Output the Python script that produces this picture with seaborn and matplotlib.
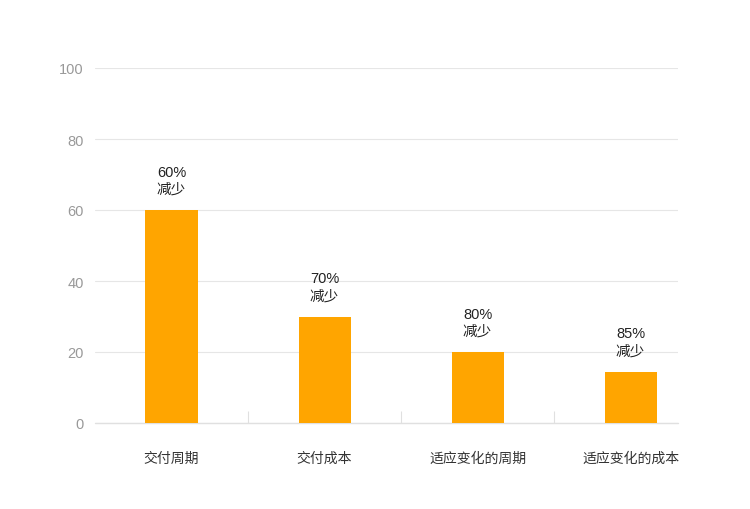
import matplotlib
matplotlib.use('Agg')
import matplotlib.pyplot as plt
import seaborn as sns

# Data
categories = ['交付周期', '交付成本', '适应变化的周期', '适应变化的成本']
values = [60, 30, 20, 14.5]
bar_labels = ['60%\n减少', '70%\n减少', '80%\n减少', '85%\n减少']
y_ticks = [0, 20, 40, 60, 80, 100]

sns.set_style("white")
plt.rcParams['font.family'] = ['Liberation Sans', 'Noto Sans CJK SC', 'DejaVu Sans']

fig = plt.figure(figsize=(7.5, 5.1), dpi=100)
ax = fig.add_axes([95 / 750, 86 / 510, 583 / 750, 355 / 510])

sns.barplot(x=categories, y=values, color='#FFA500', width=0.34, saturation=1,
            linewidth=0, edgecolor='none', ax=ax)

for i, (v, lab) in enumerate(zip(values, bar_labels)):
    ax.annotate(lab, (i, v), xytext=(0, 14), textcoords='offset pixels',
                ha='center', va='bottom', multialignment='left',
                fontsize=10.5, color='#222222', linespacing=1.3)

ax.set_ylim(0, 100)
ax.set_xlim(-0.5, 3.31)
ax.set_yticks(y_ticks)
ax.yaxis.grid(True, color='#e6e6e6', linewidth=0.8)
ax.axhline(0, color='#e0e0e0', linewidth=1, zorder=0.5, clip_on=False)
ax.set_axisbelow(True)
for s in ax.spines.values():
    s.set_visible(False)

ax.tick_params(axis='y', length=0, pad=8, labelsize=10.5, labelcolor='#999999')
ax.tick_params(axis='x', which='major', length=0, pad=20, labelsize=10, labelcolor='#333333')
ax.set_xticks([0.5, 1.5, 2.5], minor=True)
ax.tick_params(axis='x', which='minor', bottom=True, direction='in', length=9,
               width=0.8, color='#e0e0e0')
ax.set_xlabel('')
ax.set_ylabel('')

fig.savefig('out.png', dpi=100)
